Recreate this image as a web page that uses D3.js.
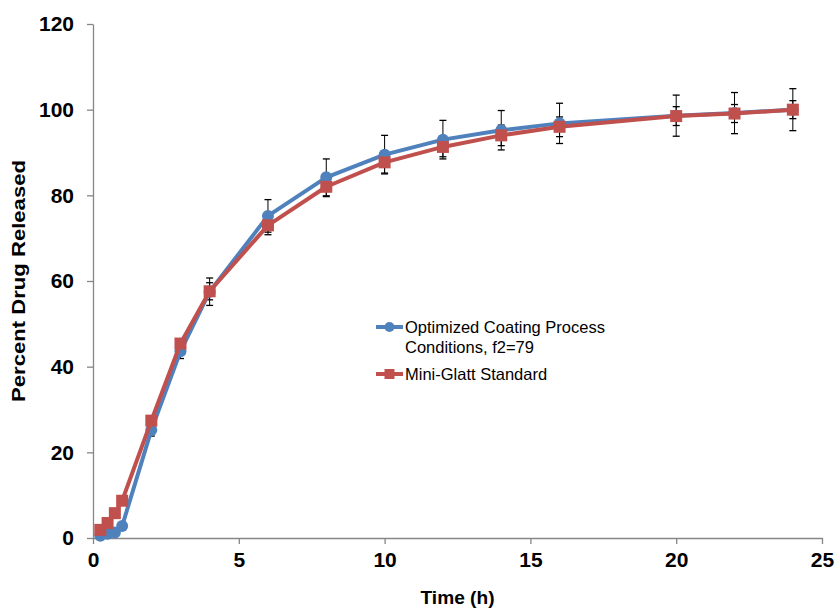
<!DOCTYPE html>
<html>
<head>
<meta charset="utf-8">
<script src="https://cdn.jsdelivr.net/npm/d3@7"></script>
<style>
  body { margin: 0; background: #fff; }
  text { font-family: "Liberation Sans", Arial, sans-serif; }
</style>
</head>
<body>
<div id="chart"></div>
<script>
// sampling times (h)
var times = [0.25, 0.5, 0.75, 1, 2, 3, 4, 6, 8, 10, 12, 14, 16, 20, 22, 24];

// Optimized Coating Process Conditions, f2=79
var optimized   = [0.5, 1.0, 1.3, 2.8, 25.2, 43.6, 57.5, 75.2, 84.2, 89.5, 93.0, 95.2, 96.8, 98.6, 99.2, 100.0];
var optimizedSD = [0.3, 0.3, 0.4, 0.6, 1.4, 1.7, 3.2, 3.8, 4.3, 4.5, 4.5, 4.6, 4.7, 4.8, 4.8, 4.9];

// Mini-Glatt Standard
var standard   = [1.9, 3.5, 5.8, 8.7, 27.4, 45.4, 57.6, 73.0, 82.0, 87.7, 91.3, 94.0, 96.0, 98.5, 99.1, 100.0];
var standardSD = [0.3, 0.4, 0.5, 0.6, 0.8, 1.0, 2.0, 2.2, 2.3, 2.5, 2.3, 2.4, 2.3, 2.2, 2.1, 2.1];

var xTicks = [0, 5, 10, 15, 20, 25];
var yTicks = [0, 20, 40, 60, 80, 100, 120];

var w = 837;
var h = 608;
var margin = {top: 24, right: 15, bottom: 70, left: 93};

var xScale = d3.scaleLinear()
               .domain([0, 25])
               .range([margin.left, w - margin.right]);

var yScale = d3.scaleLinear()
               .domain([0, 120])
               .range([h - margin.bottom, margin.top]);

var svg = d3.select("#chart")
            .append("svg")
            .attr("width", w)
            .attr("height", h);

var axisColor = "#868686";

// x axis
var xAxis = svg.append("g")
   .attr("transform", "translate(0," + yScale(0) + ")")
   .call(d3.axisBottom(xScale).tickValues(xTicks).tickSize(6).tickPadding(8).tickSizeOuter(0));

// y axis
var yAxis = svg.append("g")
   .attr("transform", "translate(" + xScale(0) + ",0)")
   .call(d3.axisLeft(yScale).tickValues(yTicks).tickSize(6).tickPadding(13).tickSizeOuter(0));

[xAxis, yAxis].forEach(function(a) {
    a.select(".domain").attr("stroke", axisColor).attr("stroke-width", 1.3);
    a.selectAll(".tick line").attr("stroke", axisColor).attr("stroke-width", 1.3);
    a.selectAll(".tick text")
     .attr("fill", "#000")
     .style("font-size", "21px")
     .style("font-weight", "bold")
     .style("font-family", "'Liberation Sans', Arial, sans-serif");
});

// axis titles
svg.append("text")
   .attr("x", (xScale(0) + xScale(25)) / 2)
   .attr("y", 604)
   .attr("text-anchor", "middle")
   .attr("textLength", 74)
   .attr("lengthAdjust", "spacingAndGlyphs")
   .style("font-size", "18px")
   .style("font-weight", "bold")
   .text("Time (h)");

svg.append("text")
   .attr("transform", "translate(25," + yScale(60) + ") rotate(-90)")
   .attr("text-anchor", "middle")
   .attr("textLength", 242)
   .attr("lengthAdjust", "spacingAndGlyphs")
   .style("font-size", "18px")
   .style("font-weight", "bold")
   .text("Percent Drug Released");

var series = [
    {name: "optimized", values: optimized, sd: optimizedSD, color: "#4F81BD", marker: "circle"},
    {name: "standard", values: standard, sd: standardSD, color: "#C0504D", marker: "square"}
];

// error bars first (they sit behind the markers)
series.forEach(function(s) {
    var g = svg.append("g");
    times.forEach(function(t, i) {
        var x = xScale(t);
        var yTop = yScale(s.values[i] + s.sd[i]);
        var yBot = yScale(s.values[i] - s.sd[i]);
        g.append("line").attr("x1", x).attr("x2", x).attr("y1", yTop).attr("y2", yBot)
         .attr("stroke", "#000").attr("stroke-width", 1);
        g.append("line").attr("x1", x - 3.5).attr("x2", x + 3.5).attr("y1", yTop).attr("y2", yTop)
         .attr("stroke", "#000").attr("stroke-width", 1.3);
        g.append("line").attr("x1", x - 3.5).attr("x2", x + 3.5).attr("y1", yBot).attr("y2", yBot)
         .attr("stroke", "#000").attr("stroke-width", 1.3);
    });
});

var line = d3.line()
    .x(function(d) { return xScale(d[0]); })
    .y(function(d) { return yScale(d[1]); });

series.forEach(function(s) {
    var pts = times.map(function(t, i) { return [t, s.values[i]]; });

    svg.append("path")
       .datum(pts)
       .attr("d", line)
       .attr("fill", "none")
       .attr("stroke", s.color)
       .attr("stroke-width", 4)
       .attr("stroke-linejoin", "round");

    if (s.marker === "circle") {
        svg.selectAll(".m-" + s.name)
           .data(pts)
           .enter()
           .append("circle")
           .attr("class", "m-" + s.name)
           .attr("cx", function(d) { return xScale(d[0]); })
           .attr("cy", function(d) { return yScale(d[1]); })
           .attr("r", 6)
           .attr("fill", s.color);
    } else {
        svg.selectAll(".m-" + s.name)
           .data(pts)
           .enter()
           .append("rect")
           .attr("class", "m-" + s.name)
           .attr("x", function(d) { return xScale(d[0]) - 6; })
           .attr("y", function(d) { return yScale(d[1]) - 6; })
           .attr("width", 12)
           .attr("height", 12)
           .attr("fill", s.color);
    }
});

// legend
var legend = svg.append("g");
var lx = 376;

legend.append("line").attr("x1", lx).attr("x2", lx + 27).attr("y1", 327).attr("y2", 327)
      .attr("stroke", "#4F81BD").attr("stroke-width", 4);
legend.append("circle").attr("cx", lx + 13.5).attr("cy", 327).attr("r", 5).attr("fill", "#4F81BD");
legend.append("text").attr("x", lx + 29).attr("y", 333).style("font-size", "16.5px")
      .text("Optimized Coating Process");
legend.append("text").attr("x", lx + 29).attr("y", 353).style("font-size", "16.5px")
      .text("Conditions, f2=79");

legend.append("line").attr("x1", lx).attr("x2", lx + 27).attr("y1", 374).attr("y2", 374)
      .attr("stroke", "#C0504D").attr("stroke-width", 4);
legend.append("rect").attr("x", lx + 8.5).attr("y", 369).attr("width", 10).attr("height", 10)
      .attr("fill", "#C0504D");
legend.append("text").attr("x", lx + 29).attr("y", 380).style("font-size", "16.5px")
      .text("Mini-Glatt Standard");
</script>
</body>
</html>
